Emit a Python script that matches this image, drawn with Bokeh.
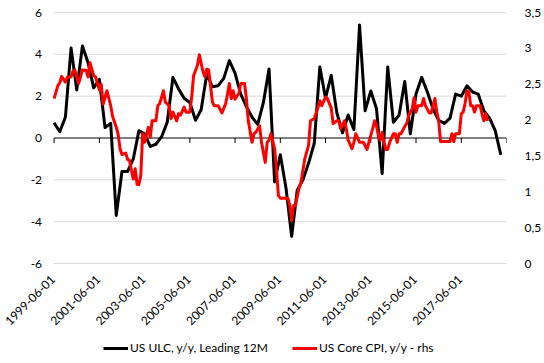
import math
import pandas as pd
from bokeh.plotting import figure
from bokeh.models import (Range1d, LinearAxis, FixedTicker, Legend, LegendItem)
from bokeh.core.properties import value
from bokeh.embed import file_html
from bokeh.resources import INLINE

# ---------------- data ----------------
start_date = "1999-06-01"
end_date = "2019-06-01"

# US ULC, y/y, Leading 12M (quarterly, from 1999-06)
ulc_values = [0.73, 0.3, 1.0, 4.3, 2.3, 4.4, 3.6, 2.4, 2.8, 0.5,
              0.7, -3.7, -1.6, -1.6, -1.0, 0.35, 0.2, -0.4, -0.3, 0.05,
              0.75, 2.9, 2.35, 1.9, 1.7, 0.85, 1.35, 3.05, 2.45, 2.5,
              2.85, 3.7, 3.1, 2.1, 1.5, 1.0, 0.65, 1.7, 3.3, -2.1,
              -0.8, -2.4, -4.7, -2.5, -2.0, -1.2, -0.25, 3.4, 1.9, 3.0,
              1.2, 0.25, 1.1, 0.4, 5.4, 1.3, 2.25, 1.4, -1.7, 3.4,
              0.75, 1.1, 2.7, 0.2, 2.1, 2.9, 2.2, 1.4, 0.85, 0.7,
              0.95, 2.1, 2.0, 2.5, 2.2, 2.1, 1.3, 0.95, 0.35, -0.8]

# US Core CPI, y/y (rhs): month offsets from 1999-06 and values
cpi_month_offset = [0, 2, 3, 4, 6, 7, 9, 10, 11, 13, 15, 17, 18, 19, 21, 22, 24, 25, 26, 28,
                    30, 31, 33, 34, 35, 36, 38, 39, 40, 41, 42, 43, 44, 45, 46, 47, 48, 50, 51, 52,
                    54, 55, 56, 58, 59, 61, 62, 63, 65, 66, 67, 69, 70, 72, 73, 74, 76, 77, 79, 80,
                    81, 82, 84, 85, 87, 89, 91, 92, 93, 94, 95, 96, 98, 99, 101, 102, 103, 105, 106, 107,
                    109, 110, 112, 113, 114, 115, 117, 118, 119, 120, 124, 125, 126, 127, 128, 130, 131, 133, 135, 136,
                    138, 140, 141, 142, 144, 145, 147, 148, 150, 151, 152, 154, 155, 156, 158, 159, 160, 162, 164, 166,
                    167, 169, 170, 171, 172, 173, 174, 175, 176, 177, 178, 180, 181, 182, 183, 184, 186, 187, 188, 190,
                    191, 192, 193, 195, 196, 197, 199, 200, 202, 203, 204, 205, 210, 211, 212, 213, 215, 216, 217, 218,
                    219, 220, 221, 222, 223, 224, 226, 227, 228, 229, 230]
cpi_values = [2.30, 2.48, 2.52, 2.61, 2.53, 2.60, 2.60, 2.68, 2.70, 2.51, 2.70, 2.69, 2.60, 2.80, 2.62, 2.60, 2.42, 2.50, 2.22, 2.41,
              2.20, 2.05, 1.90, 1.80, 1.60, 1.52, 1.54, 1.45, 1.44, 1.30, 1.18, 1.32, 1.10, 1.10, 1.23, 1.81, 1.69, 1.90, 1.76, 1.99,
              1.99, 2.20, 2.23, 2.41, 2.25, 2.20, 2.02, 2.11, 1.99, 2.09, 2.07, 2.18, 2.11, 2.11, 2.32, 2.62, 2.76, 2.91, 2.67, 2.60,
              2.71, 2.70, 2.25, 2.20, 2.20, 2.10, 2.23, 2.37, 2.51, 2.30, 2.41, 2.29, 2.37, 2.51, 2.51, 2.30, 1.99, 1.69, 1.81, 1.83,
              1.92, 1.69, 1.41, 1.69, 1.72, 1.81, 1.60, 1.30, 0.95, 0.91, 0.91, 0.81, 0.60, 0.81, 0.81, 1.06, 1.13, 1.46, 1.65, 1.99,
              2.02, 2.18, 2.27, 2.20, 2.32, 2.30, 2.17, 1.95, 1.99, 1.99, 1.88, 1.99, 1.88, 1.72, 1.60, 1.69, 1.81, 1.69, 1.69, 1.59,
              1.69, 1.88, 1.99, 1.92, 1.78, 1.72, 1.83, 1.69, 1.59, 1.59, 1.69, 1.81, 1.81, 1.69, 1.81, 1.81, 1.91, 1.95, 2.06, 2.16,
              2.31, 2.11, 2.20, 2.20, 2.30, 2.20, 2.10, 2.10, 2.30, 2.11, 1.99, 1.70, 1.70, 1.81, 1.70, 1.81, 1.81, 2.09, 2.11, 2.23,
              2.41, 2.39, 2.20, 2.20, 2.11, 2.20, 2.20, 2.09, 1.99, 2.09, 1.99]

x_tick_labels = ["1999-06-01", "2001-06-01", "2003-06-01", "2005-06-01", "2007-06-01",
                 "2009-06-01", "2011-06-01", "2013-06-01", "2015-06-01", "2017-06-01"]
x_tick_marks = x_tick_labels + ["2019-06-01"]
left_ticks = [-6, -4, -2, 0, 2, 4, 6]
left_labels = ["-6", "-4", "-2", "0", "2", "4", "6"]
right_ticks = [0, 0.5, 1, 1.5, 2, 2.5, 3, 3.5]
right_labels = ["0", "0,5", "1", "1,5", "2", "2,5", "3", "3,5"]
legend_labels = ["US ULC, y/y, Leading 12M", "US Core CPI, y/y - rhs"]

# ---------------- build ----------------
t0 = pd.Timestamp(start_date)
t1 = pd.Timestamp(end_date)
ulc_dates = [t0 + pd.DateOffset(months=3 * i) for i in range(len(ulc_values))]
cpi_dates = [t0 + pd.DateOffset(months=m) for m in cpi_month_offset]

FONT = "Lato"
FS = "12px"
TXT = "#000000"

W, H = 544, 363
LEFT, RIGHT, TOP = 54, 34, 12     # plotting band offsets inside the figure
PLOT_W = W - LEFT - RIGHT         # width of the dated band in px
PLOT_H = 251                      # height of the -6..6 band in px
EXTRA = H - TOP - PLOT_H          # space below the band (labels + legend)
lmin, lmax = left_ticks[0], left_ticks[-1]
rmin, rmax = right_ticks[0], right_ticks[-1]
lpp = (lmax - lmin) / PLOT_H      # left units per px
rpp = (rmax - rmin) / PLOT_H      # right units per px
x_start = t0 - (t1 - t0) * (LEFT / PLOT_W)

p = figure(width=W, height=H, x_axis_type="datetime", x_axis_location=None,
           y_axis_location=None,
           x_range=Range1d(x_start, t1),
           y_range=Range1d(lmin - EXTRA * lpp, lmax + TOP * lpp),
           output_backend="svg", toolbar_location=None,
           min_border_left=0, min_border_right=RIGHT, min_border_top=0, min_border_bottom=0)
p.outline_line_color = None
p.background_fill_color = "white"
p.border_fill_color = "white"
p.xgrid.visible = False
p.ygrid.visible = False

# horizontal gridlines over the dated band only
n = len(left_ticks)
grid_y = [t for t in left_ticks if t != 0]
p.segment(x0=[t0] * len(grid_y), y0=grid_y, x1=[t1] * len(grid_y), y1=grid_y,
          line_color="#d9d9d9", line_width=1)

# left tick labels
p.text(x=[t0] * n, y=left_ticks, text=left_labels, x_offset=-12,
       text_align="right", text_baseline="middle",
       text_font=value(FONT), text_font_size=value(FS), text_color=TXT)

# right axis
p.extra_y_ranges = {"rhs": Range1d(rmin - EXTRA * rpp, rmax + TOP * rpp)}
ra = LinearAxis(y_range_name="rhs", ticker=FixedTicker(ticks=right_ticks))
ra.major_label_overrides = dict(zip(right_ticks, right_labels))
ra.axis_line_color = None
ra.major_tick_line_color = None
ra.minor_tick_line_color = None
ra.major_label_standoff = 12
ra.major_label_text_font = FONT
ra.major_label_text_font_size = FS
ra.major_label_text_color = TXT
p.add_layout(ra, "right")

# zero line with category tick marks
p.segment(x0=[t0], y0=[0], x1=[t1], y1=[0], line_color="#000000", line_width=1)
tick_dates = [pd.Timestamp(s) for s in x_tick_marks]
p.segment(x0=tick_dates, y0=[0] * len(tick_dates), x1=tick_dates, y1=[-0.24] * len(tick_dates),
          line_color="#000000", line_width=1)

# rotated category labels below the plotting band
label_dates = [pd.Timestamp(s) for s in x_tick_labels]
p.text(x=label_dates, y=[lmin] * len(label_dates), text=x_tick_labels,
       angle=math.pi / 4, text_align="right", text_baseline="middle",
       x_offset=-1, y_offset=14,
       text_font=value(FONT), text_font_size=value(FS), text_color=TXT)

r1 = p.line(ulc_dates, ulc_values, line_color="#000000", line_width=3, line_join="round")
r2 = p.line(cpi_dates, cpi_values, line_color="#ff0000", line_width=3, line_join="round",
            y_range_name="rhs")

legend = Legend(items=[LegendItem(label=legend_labels[0], renderers=[r1]),
                       LegendItem(label=legend_labels[1], renderers=[r2])],
                location=(103, 8), orientation="horizontal",
                border_line_color=None, background_fill_alpha=0,
                padding=0, margin=0, spacing=24,
                glyph_width=25, glyph_height=14, label_height=14, label_standoff=2,
                label_text_font=FONT, label_text_font_size=FS, label_text_color=TXT)
p.add_layout(legend)

open("out.html", "w").write(file_html(p, INLINE))
